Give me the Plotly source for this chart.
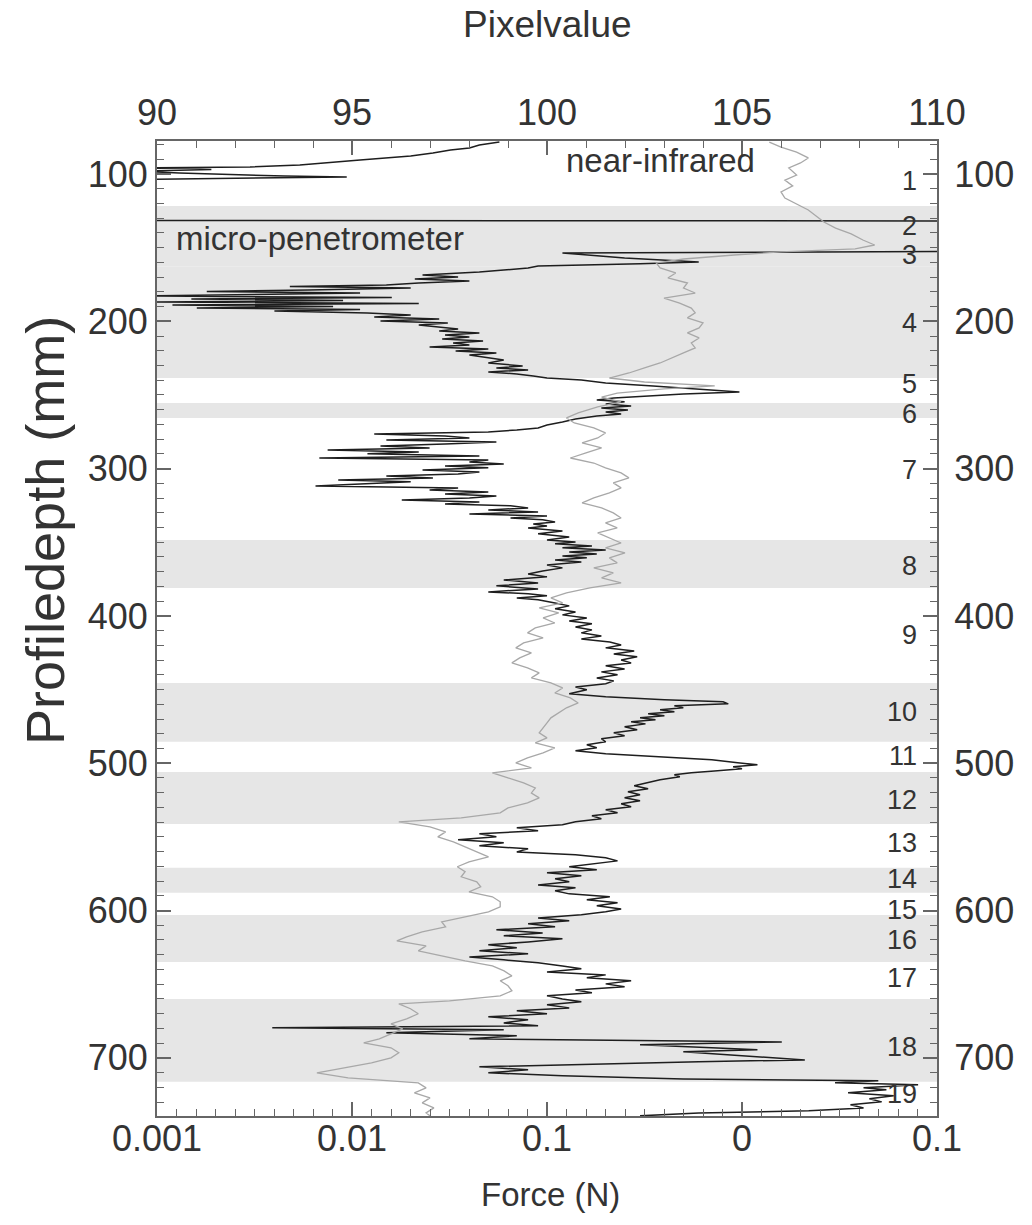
import plotly.graph_objects as go

# ---------------- data ----------------
# micro-penetrometer: depth (mm) and force (N)
pen_depth = [78.3, 80.3, 82.4, 83.7, 85.7, 87.8, 90.5, 92.5, 93.9, 95.2, 95.9, 96.9, 98.0, 99.3, 101.4, 102.0, 102.7, 103.7,
             110.0, 120.0, 131.5, 131.9, 140.0, 146.0, 150.0, 152.5,
             153.6, 157.0, 159.7, 161.0, 162.4, 163.8, 165.2, 166.5,
             168.6, 169.9, 171.3, 172.6, 174.0, 175.3, 176.4, 177.4, 178.7, 179.7, 180.8, 181.8, 182.8, 183.9, 184.8, 185.9,
             186.9, 187.9, 188.9, 189.9, 191.0, 192.0, 193.0, 194.3, 195.7, 197.1, 198.4, 199.8, 201.1, 202.5, 203.8, 205.2,
             206.6, 207.9, 209.3, 210.6, 212.0, 213.3, 214.7, 216.1, 217.4, 218.8, 220.1, 221.5, 222.9, 224.2, 226.2, 228.3,
             230.3, 231.7, 233.0, 234.4, 235.7, 237.1, 238.5,
             239.8, 241.9, 243.9, 245.9, 248.0, 249.3, 250.7, 252.0, 253.4, 254.7,
             256.1, 257.5, 258.8, 260.2, 261.5, 262.9, 264.3, 266.3, 268.3, 270.4,
             272.4, 273.8, 275.1, 276.5, 277.8, 279.2, 280.5, 281.9, 283.3, 284.6, 286.0, 287.3, 288.7, 290.0, 291.4, 292.8,
             294.1, 295.5, 296.8, 298.2, 299.5, 300.9, 302.3, 303.6, 305.0, 306.3, 307.7, 309.0, 310.4, 311.8, 313.1, 314.5,
             315.8, 317.2, 318.6, 319.9, 321.3, 322.6, 324.0, 325.3, 326.7, 328.1, 329.4, 330.8, 332.1, 333.5, 334.8, 336.2,
             337.6, 338.9, 340.3, 342.3, 344.3, 346.4,
             348.4, 349.8, 351.1, 352.5, 353.8, 355.2, 356.6, 357.9, 359.3, 360.6, 362.0, 363.4, 365.4, 367.4, 369.5, 371.5,
             373.5, 375.6, 377.6, 379.6, 381.7,
             383.7, 385.0, 386.4, 387.8, 389.1, 391.2, 393.2, 395.2, 397.3, 399.3, 401.4, 403.4, 405.4, 407.5, 409.5, 411.5,
             413.6, 415.6, 417.7, 419.7, 421.7, 423.8, 425.8, 427.8, 429.9, 431.9, 433.9, 436.0, 438.0, 440.0, 442.1, 444.1,
             446.1, 448.2, 450.2, 452.9, 454.9, 457.0, 458.3, 459.7, 461.0, 462.4, 463.7, 465.1, 466.5, 467.8, 469.2, 470.5,
             471.9, 473.3, 475.3, 477.3, 479.4, 481.4, 483.4, 485.5, 487.5, 489.5,
             491.6, 493.6, 495.6, 497.7, 499.7, 501.1, 502.4, 503.8, 505.2, 506.5, 507.9, 509.2,
             511.3, 513.3, 515.3, 517.4, 519.4, 521.4, 523.5, 525.5, 527.5, 529.6, 531.6, 533.7, 535.7, 537.7, 539.8, 541.8,
             543.9, 545.9, 547.9, 550.0, 552.0, 554.0, 556.1, 558.1, 560.2, 562.2, 564.2, 566.3, 568.3, 570.3,
             572.4, 574.4, 576.4, 578.5, 580.5, 582.6, 584.6, 586.6,
             588.7, 590.7, 592.7, 594.8, 596.8, 598.9, 600.9, 602.9,
             605.0, 607.0, 609.0, 611.1, 613.1, 615.2, 617.2, 619.2, 621.3, 623.3, 625.3, 627.4, 629.4, 631.5, 633.5,
             635.5, 637.6, 639.6, 641.7, 643.7, 645.7, 647.7, 649.8, 651.8, 653.9, 655.9, 657.9, 660.0,
             662.0, 664.0, 666.1, 668.1, 670.1, 672.2, 674.2, 676.3, 678.3, 679.6, 681.0, 683.0, 685.0, 687.1, 689.2, 691.2,
             693.2, 694.6, 695.9, 698.0, 700.0, 701.4, 702.7, 704.7, 706.1, 708.1, 710.2, 712.2, 714.3, 715.6, 717.0, 718.3,
             720.4, 721.7, 723.8, 725.8, 727.8, 729.9, 731.9, 734.0, 736.0, 737.4, 739.4]
pen_force = [0.057, 0.045, 0.040, 0.032, 0.026, 0.020, 0.011, 0.0075, 0.0054, 0.0030, 0.0009, 0.0019, 0.0008, 0.0013, 0.0045, 0.0094, 0.0030, 0.0008,
             0.0006, 0.0006, 0.0006, 15.0, 15.0, 15.0, 15.0, 15.0,
             0.12, 0.25, 0.6, 0.3, 0.09, 0.08, 0.06, 0.045,
             0.023, 0.035, 0.021, 0.040, 0.022, 0.015, 0.0048, 0.020, 0.006, 0.0018, 0.011, 0.003, 0.0009, 0.016, 0.0015, 0.009,
             0.0009, 0.022, 0.0012, 0.008, 0.0016, 0.011, 0.004, 0.012, 0.020, 0.013, 0.028, 0.014, 0.031, 0.022, 0.027, 0.035,
             0.028, 0.045, 0.030, 0.040, 0.029, 0.047, 0.033, 0.040, 0.025, 0.050, 0.034, 0.055, 0.040, 0.046, 0.060, 0.050,
             0.075, 0.055, 0.080, 0.050, 0.070, 0.085, 0.10,
             0.15, 0.20, 0.35, 0.60, 0.97, 0.50, 0.30, 0.22, 0.18, 0.25,
             0.20, 0.27, 0.19, 0.26, 0.20, 0.24, 0.18, 0.14, 0.12, 0.10,
             0.09, 0.07, 0.05, 0.013, 0.030, 0.040, 0.015, 0.055, 0.030, 0.014, 0.025, 0.0075, 0.022, 0.012, 0.045, 0.0068,
             0.050, 0.040, 0.060, 0.030, 0.050, 0.023, 0.045, 0.035, 0.015, 0.026, 0.0085, 0.020, 0.011, 0.0065, 0.035, 0.025,
             0.050, 0.030, 0.055, 0.040, 0.018, 0.045, 0.030, 0.065, 0.080, 0.050, 0.090, 0.040, 0.10, 0.065, 0.095, 0.11,
             0.085, 0.10, 0.080, 0.12, 0.090, 0.13,
             0.10, 0.14, 0.11, 0.17, 0.12, 0.20, 0.13, 0.18, 0.12, 0.16, 0.11, 0.15, 0.10, 0.12, 0.095, 0.080,
             0.10, 0.060, 0.090, 0.055, 0.090,
             0.050, 0.080, 0.10, 0.070, 0.090, 0.11, 0.13, 0.11, 0.14, 0.12, 0.16, 0.13, 0.17, 0.14, 0.17, 0.15,
             0.19, 0.15, 0.21, 0.24, 0.20, 0.28, 0.22, 0.29, 0.24, 0.27, 0.20, 0.25, 0.19, 0.23, 0.18, 0.22,
             0.20, 0.14, 0.16, 0.13, 0.20, 0.40, 0.80, 0.85, 0.45, 0.50, 0.38, 0.45, 0.33, 0.40, 0.30, 0.36,
             0.27, 0.32, 0.25, 0.29, 0.22, 0.25, 0.19, 0.20, 0.16, 0.18,
             0.14, 0.20, 0.35, 0.70, 0.95, 1.20, 0.90, 1.00, 0.75, 0.55, 0.45, 0.48,
             0.38, 0.33, 0.28, 0.33, 0.26, 0.30, 0.25, 0.30, 0.24, 0.27, 0.20, 0.23, 0.17, 0.19, 0.14, 0.12,
             0.070, 0.090, 0.045, 0.055, 0.035, 0.060, 0.045, 0.080, 0.070, 0.14, 0.20, 0.23, 0.17, 0.13,
             0.18, 0.10, 0.15, 0.11, 0.13, 0.090, 0.14, 0.11,
             0.13, 0.21, 0.16, 0.23, 0.18, 0.24, 0.20, 0.15,
             0.090, 0.13, 0.080, 0.11, 0.055, 0.095, 0.060, 0.12, 0.080, 0.050, 0.070, 0.045, 0.080, 0.040, 0.060,
             0.090, 0.12, 0.15, 0.10, 0.20, 0.16, 0.27, 0.20, 0.25, 0.14, 0.17, 0.10, 0.12,
             0.15, 0.10, 0.13, 0.070, 0.10, 0.050, 0.080, 0.060, 0.090, 0.0039, 0.060, 0.015, 0.070, 0.040, 1.6, 0.30,
             0.70, 1.2, 0.50, 0.90, 1.4, 2.1, 0.60, 0.12, 0.045, 0.080, 0.050, 0.12, 0.50, 5.0, 3.0, 8.0,
             4.2, 5.5, 3.5, 6.0, 4.5, 5.2, 3.6, 4.2, 2.2, 0.60, 0.30]

# near-infrared: depth (mm) and pixel value
nir_depth = [78.3, 81.7, 85.1, 89.1, 92.5, 95.9, 100.7, 104.1, 108.1, 112.2, 116.3, 120.4, 124.4, 128.5, 132.6, 136.7,
             140.7, 144.8, 148.2, 150.9, 152.9, 155.0, 157.7, 160.4, 163.8, 167.2, 170.6, 174.0, 177.4, 180.8, 184.2, 187.6,
             191.0, 194.3, 197.7, 201.1, 204.5, 207.9, 211.3, 214.7, 218.1, 221.5, 224.9, 228.3, 231.7, 235.1, 238.5, 241.2,
             243.9, 245.9, 248.7, 251.4, 254.7, 258.1, 262.2, 265.6, 269.0, 272.4, 275.8, 279.2, 282.6, 286.0, 289.4, 292.8,
             296.2, 299.5, 302.9, 306.3, 309.7, 313.1, 316.5, 319.9, 323.3, 326.7, 330.1, 333.5, 336.9, 340.3, 343.7, 347.1,
             350.5, 353.8, 357.2, 360.6, 364.0, 367.4, 370.8, 374.2, 377.6, 381.0, 384.4, 387.8, 391.2, 394.6, 398.0, 401.4,
             404.8, 408.1, 411.5, 414.9, 418.3, 421.7, 425.1, 428.5, 431.9, 435.3, 438.7, 442.1, 445.5, 448.9, 452.3, 455.7,
             459.1, 462.4, 465.8, 469.2, 472.6, 476.0, 479.4, 482.8, 486.2, 489.6, 493.0, 496.4, 499.8, 503.2, 506.6, 510.0,
             513.4, 516.8, 520.2, 523.5, 526.9, 530.3, 533.7, 537.1, 539.8, 543.2, 546.6, 550.0, 553.4, 556.8, 560.2, 563.6,
             567.0, 570.3, 573.7, 577.1, 580.5, 583.9, 587.3, 590.7, 594.1, 597.5, 600.9, 604.3, 607.7, 611.1, 614.5, 617.9,
             620.6, 624.0, 627.4, 630.8, 634.2, 637.6, 641.0, 644.4, 647.7, 651.1, 654.5, 657.9, 661.3, 663.4, 666.7, 670.1,
             673.5, 676.9, 680.3, 683.7, 687.1, 689.8, 693.2, 696.6, 700.0, 703.4, 706.8, 710.2, 713.6, 717.0, 720.4, 723.8,
             727.2, 730.6, 734.0, 737.4, 739.4]
nir_value = [105.7, 106.0, 106.4, 106.7, 106.5, 106.2, 106.4, 106.1, 106.3, 106.0, 106.1, 106.4, 106.7, 106.9, 107.1, 107.4,
             107.8, 108.1, 108.4, 107.9, 106.0, 104.8, 103.5, 102.8, 102.9, 103.3, 103.1, 103.6, 103.5, 103.8, 103.0, 103.4,
             103.7, 103.8, 103.6, 104.0, 103.9, 103.6, 103.9, 103.7, 103.8, 103.5, 103.2, 102.9, 102.5, 102.1, 101.6, 102.5,
             104.3, 103.0, 101.8, 101.4, 101.9, 101.3, 100.8, 100.5, 100.7, 101.2, 101.5, 101.3, 100.9, 101.4, 101.0, 100.6,
             101.2, 101.5, 101.9, 102.1, 101.7, 101.9, 101.6, 101.2, 100.9, 101.4, 101.7, 101.9, 101.5, 101.8, 101.3, 101.6,
             101.9, 101.5, 102.0, 101.6, 101.8, 101.2, 101.7, 101.4, 101.9, 101.1, 100.5, 100.1, 100.4, 99.8, 100.3, 99.9,
             100.2, 99.7, 99.5, 99.9, 99.4, 99.2, 99.6, 99.3, 99.1, 99.5, 99.8, 99.6, 100.1, 100.4, 100.2, 100.6,
             100.8, 100.5, 100.3, 100.1, 100.0, 99.9, 99.8, 100.0, 99.7, 100.2, 99.9, 99.5, 99.2, 99.6, 98.6, 99.0,
             99.4, 99.7, 99.6, 99.8, 99.5, 99.0, 98.8, 97.8, 96.2, 97.0, 97.4, 97.2, 97.6, 97.9, 98.2, 98.5,
             98.0, 97.7, 97.9, 97.8, 98.2, 98.3, 98.0, 98.6, 98.8, 98.8, 98.5, 97.9, 97.3, 97.4, 96.8, 96.4,
             96.15, 96.9, 96.7, 97.3, 97.9, 98.6, 98.9, 99.1, 98.8, 99.0, 99.1, 98.8, 97.5, 96.2, 96.5, 96.7,
             96.4, 96.0, 96.3, 96.0, 95.7, 95.3, 96.0, 96.2, 96.0, 95.5, 94.8, 94.1, 94.9, 96.7, 96.9, 96.6,
             97.0, 96.8, 97.1, 96.9, 97.0]

# layers (shaded bands) and layer numbers
band_top = [121.7, 131.9, 163.0, 255.4, 348.4, 445.5, 505.9, 571.0, 603.0, 660.0]
band_bottom = [131.9, 163.0, 238.5, 265.6, 381.0, 485.5, 541.2, 588.0, 634.9, 716.3]
layer_labels = [str(i) for i in range(1, 20)]
layer_label_depth = [105, 135, 155, 201, 242.8, 262.8, 300.9, 366, 413, 465, 495, 525, 554, 578.5, 599.5, 620, 646, 692.5, 724.4]

depth_ticks = [100, 200, 300, 400, 500, 600, 700]
force_tickvals = [0.001, 0.01, 0.1, 1, 10]
force_ticktext = ["0.001", "0.01", "0.1", "0", "0.1"]
pixel_ticks = [90, 95, 100, 105, 110]

depth_range = [739.5, 77.6]

# ---------------- figure ----------------
FONT = "Liberation Sans, Arial, sans-serif"
TXT = "#333333"
AX = "#666666"

fig = go.Figure()

fig.add_trace(go.Scatter(x=nir_value, y=nir_depth, xaxis="x2", yaxis="y", mode="lines",
                         line=dict(color="#a8a8a8", width=1.3), showlegend=False))
fig.add_trace(go.Scatter(x=pen_force, y=pen_depth, xaxis="x", yaxis="y", mode="lines",
                         line=dict(color="#1e1e1e", width=1.5), showlegend=False))
# invisible trace to carry the right-hand depth axis
fig.add_trace(go.Scatter(x=[pixel_ticks[0]], y=[depth_ticks[0]], xaxis="x2", yaxis="y2", mode="markers",
                         marker=dict(opacity=0), showlegend=False, hoverinfo="skip"))

shapes = []
for t, b in zip(band_top, band_bottom):
    shapes.append(dict(type="rect", xref="paper", yref="y", x0=0, x1=1, y0=t, y1=b,
                       fillcolor="#e6e6e6", line=dict(width=0), layer="below"))

annotations = []
for lab, d in zip(layer_labels, layer_label_depth):
    annotations.append(dict(text=lab, xref="paper", yref="y", x=0.977, y=d, xanchor="right", yanchor="middle",
                            showarrow=False, font=dict(family=FONT, size=27, color=TXT)))
annotations += [
    dict(text="near-infrared", xref="paper", yref="paper", x=0.646, y=0.98, xanchor="center", yanchor="middle",
         showarrow=False, font=dict(family=FONT, size=33, color=TXT)),
    dict(text="micro-penetrometer", xref="paper", yref="paper", x=0.209, y=0.9, xanchor="center", yanchor="middle",
         showarrow=False, font=dict(family=FONT, size=33, color=TXT)),
    dict(text="Pixelvalue", xref="paper", yref="paper", x=0.5, y=1.119, xanchor="center", yanchor="middle",
         showarrow=False, font=dict(family=FONT, size=37, color=TXT)),
    dict(text="Force (N)", xref="paper", yref="paper", x=0.505, y=-0.081, xanchor="center", yanchor="middle",
         showarrow=False, font=dict(family=FONT, size=33, color=TXT)),
    dict(text="Profiledepth (mm)", xref="paper", yref="paper", x=-0.1436, y=0.601, xanchor="center", yanchor="middle",
         textangle=-90, showarrow=False, font=dict(family=FONT, size=54, color=TXT)),
]

tickfont = dict(family=FONT, size=36, color=TXT)

fig.update_layout(
    width=1032, height=1225,
    margin=dict(l=157, r=95, t=141, b=109),
    paper_bgcolor="white", plot_bgcolor="white",
    shapes=shapes, annotations=annotations,
    xaxis=dict(type="log", range=[-3, 1], tickvals=force_tickvals, ticktext=force_ticktext,
               ticks="inside", ticklen=14, tickwidth=1.5, tickcolor=AX, showline=True, linecolor=AX, linewidth=2,
               showgrid=False, zeroline=False, tickfont=tickfont, ticklabelstandoff=-10,
               minor=dict(tickvals=[10 ** (-3 + k * 0.1) for k in range(1, 40)], ticks="inside", ticklen=7,
                          tickcolor=AX, tickwidth=1, showgrid=False)),
    xaxis2=dict(range=[90, 110], overlaying="x", side="top", tickvals=pixel_ticks,
                ticks="inside", ticklen=14, tickwidth=1.5, tickcolor=AX, showline=True, linecolor=AX, linewidth=2,
                showgrid=False, zeroline=False, tickfont=tickfont,
                minor=dict(dtick=1, ticks="inside", ticklen=7, tickcolor=AX, tickwidth=1, showgrid=False)),
    yaxis=dict(range=depth_range, tickvals=depth_ticks, ticks="inside", ticklen=14, tickwidth=1.5, tickcolor=AX,
               showline=True, linecolor=AX, linewidth=2, showgrid=False, zeroline=False, tickfont=tickfont,
               minor=dict(dtick=10, tick0=0, ticks="inside", ticklen=7, tickcolor=AX, tickwidth=1, showgrid=False)),
    yaxis2=dict(range=depth_range, overlaying="y", side="right", tickvals=depth_ticks, ticks="inside", ticklen=14,
                tickwidth=1.5, tickcolor=AX, showline=True, linecolor=AX, linewidth=2, showgrid=False,
                zeroline=False, tickfont=tickfont, ticklabelstandoff=8,
                minor=dict(dtick=10, tick0=0, ticks="inside", ticklen=7, tickcolor=AX, tickwidth=1, showgrid=False)),
)

fig.write_html("out.html", config={"displayModeBar": False},
               post_script="document.body.style.margin='0px';")
